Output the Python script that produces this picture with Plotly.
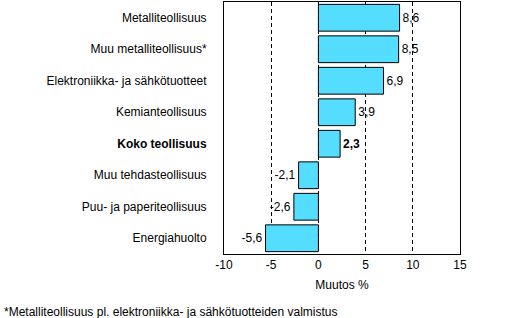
import plotly.graph_objects as go

categories = ["Metalliteollisuus", "Muu metalliteollisuus*", "Elektroniikka- ja sähkötuotteet",
              "Kemianteollisuus", "<b>Koko teollisuus</b>", "Muu tehdasteollisuus",
              "Puu- ja paperiteollisuus", "Energiahuolto"]
values = [8.6, 8.5, 6.9, 3.9, 2.3, -2.1, -2.6, -5.6]
tick_vals = [-10, -5, 0, 5, 10, 15]
footnote = "*Metalliteollisuus pl. elektroniikka- ja sähkötuotteiden valmistus"

texts = []
for c, v in zip(categories, values):
    s = f"{v:.1f}".replace(".", ",")
    if c.startswith("<b>"):
        s = f"<b>{s}</b>"
    texts.append(s)

font = "Liberation Sans, Arial, sans-serif"

fig = go.Figure(go.Bar(
    x=values, y=categories, orientation="h",
    marker=dict(color="#55DDFF", line=dict(color="black", width=1)),
    text=texts, textposition="outside", cliponaxis=False,
    textfont=dict(family=font, size=12, color="black"),
))

fig.update_layout(
    width=525, height=318,
    margin=dict(l=224, r=65, t=2, b=64),
    paper_bgcolor="white", plot_bgcolor="white",
    bargap=0.15,
    showlegend=False,
    font=dict(family=font, size=12, color="black"),
    xaxis=dict(range=[-10, 15], tickvals=tick_vals, ticktext=[str(t) for t in tick_vals],
               showgrid=True, gridcolor="black", griddash="4px,3px", gridwidth=1,
               zeroline=False, showline=True, mirror=True, linecolor="black", linewidth=1,
               ticks="", title=dict(text="Muutos %", standoff=9, font=dict(size=12)),
               tickfont=dict(size=12)),
    yaxis=dict(categoryorder="array", categoryarray=categories, autorange="reversed",
               showline=True, mirror=True, linecolor="black", linewidth=1,
               ticks="", ticklabelstandoff=14, tickfont=dict(size=12), showgrid=False),
    annotations=[dict(text=footnote, xref="paper", yref="paper", x=0, y=0,
                      xanchor="left", yanchor="middle", xshift=-222, yshift=-58,
                      showarrow=False, font=dict(size=12))],
)

fig.write_html("out.html")
